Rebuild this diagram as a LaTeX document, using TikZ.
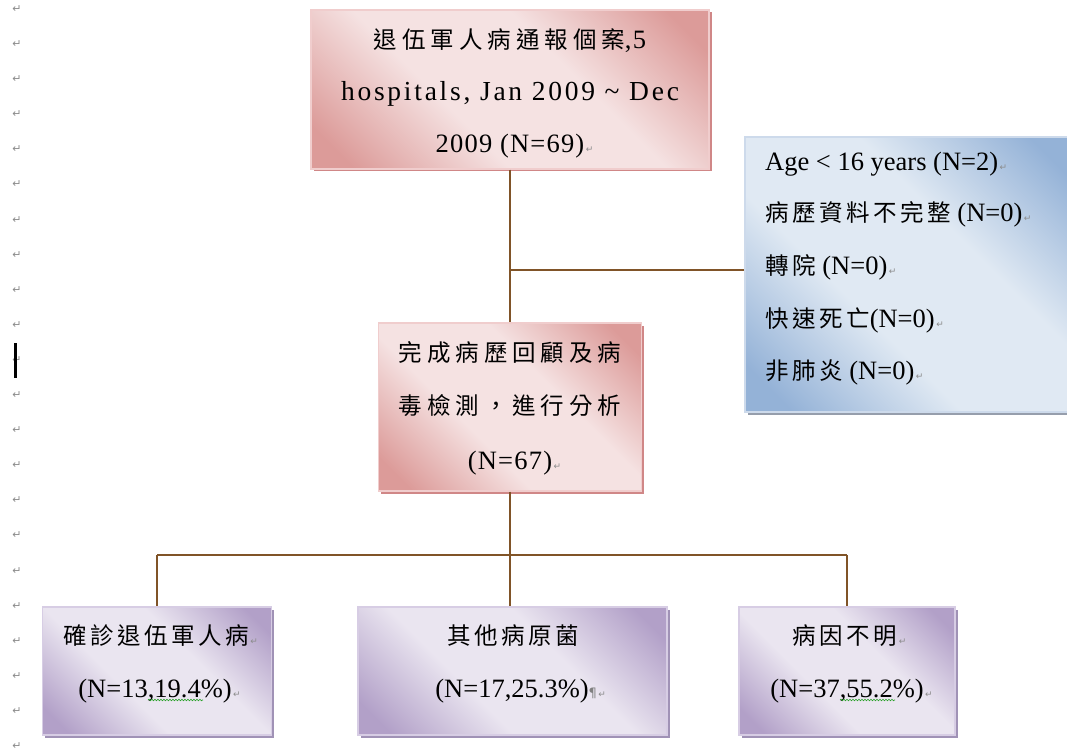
\documentclass[tikz,border=0pt]{standalone}
\usepackage{fontspec}
\setmainfont{Liberation Serif}
\newfontfamily\cjk[LetterSpace=15]{Noto Sans CJK TC}
\newfontfamily\cjkw[LetterSpace=21]{Noto Sans CJK TC}
\newfontfamily\mingA[LetterSpace=10]{Liberation Serif}
\newfontfamily\mingB[LetterSpace=4.5]{Liberation Serif}
\newfontfamily\symf{DejaVu Sans}
\usetikzlibrary{shadows,decorations.pathmorphing}

% fills, edges and shadows of the three box families
\definecolor{pkD}{RGB}{220,155,153}
\definecolor{pkL}{RGB}{245,226,226}
\definecolor{pkE}{RGB}{240,205,205}
\definecolor{pkS}{RGB}{208,135,135}
\definecolor{blD}{RGB}{148,178,215}
\definecolor{blL}{RGB}{224,233,243}
\definecolor{blE}{RGB}{205,218,235}
\definecolor{blS}{RGB}{150,158,172}
\definecolor{puD}{RGB}{178,160,200}
\definecolor{puL}{RGB}{234,229,240}
\definecolor{puE}{RGB}{215,205,228}
\definecolor{puS}{RGB}{160,146,182}
\definecolor{lnk}{RGB}{128,84,40}
\definecolor{markgray}{RGB}{140,140,140}
\definecolor{wvgreen}{RGB}{40,160,40}

\pgfdeclarehorizontalshading{pinkdiag}{100bp}{color(0bp)=(pkD); color(20bp)=(pkD); color(40bp)=(pkL); color(60bp)=(pkL); color(80bp)=(pkD); color(100bp)=(pkD)}
\pgfdeclarehorizontalshading{bluediag}{100bp}{color(0bp)=(blD); color(20bp)=(blD); color(40bp)=(blL); color(60bp)=(blL); color(80bp)=(blD); color(100bp)=(blD)}
\pgfdeclarehorizontalshading{purpdiag}{100bp}{color(0bp)=(puD); color(20bp)=(puD); color(40bp)=(puL); color(60bp)=(puL); color(80bp)=(puD); color(100bp)=(puD)}

% paragraph mark set just after a line
\newcommand\ret{\rlap{\kern1.5pt\textcolor{markgray}{\symf\fontsize{9}{9}\selectfont ↵}}}
\newcommand\pilcrow{\textcolor{gray}{\symf\fontsize{13}{13}\selectfont ¶}}

\begin{document}
\begin{tikzpicture}[x=1pt,y=-1pt,
  box/.style={rectangle, inner sep=0pt, line width=1.2pt},
  pinkbox/.style={box, shading=pinkdiag, shading angle=45, draw=pkE,
    drop shadow={shadow xshift=2.5pt, shadow yshift=-2.5pt, fill=pkS, opacity=1}},
  bluebox/.style={box, shading=bluediag, shading angle=45, draw=blE,
    drop shadow={shadow xshift=2.5pt, shadow yshift=-2.5pt, fill=blS, opacity=1}},
  purpbox/.style={box, shading=purpdiag, shading angle=45, draw=puE,
    drop shadow={shadow xshift=2.5pt, shadow yshift=-2.5pt, fill=puS, opacity=1}},
  txt/.style={inner sep=0pt, anchor=base},
  ltxt/.style={inner sep=0pt, anchor=base west},
  zh/.style={font=\fontsize{23.5}{23.5}\selectfont},
  la/.style={font=\fontsize{26.5}{26.5}\selectfont},
  link/.style={draw=lnk, line width=2.2pt},
  wavy/.style={draw=wvgreen, line width=0.6pt, decorate,
    decoration={snake, amplitude=0.8pt, segment length=3pt}},
  pmark/.style={inner sep=0pt, text=markgray, font=\symf\fontsize{11}{11}\selectfont}
]
\clip (0,0) rectangle (1067,754);
\fill[white] (0,0) rectangle (1067,754);

% paragraph marks down the left margin and the text cursor
\foreach \i in {0,...,21}{
  \node[pmark] (m\i) at (17,{9+35.1*\i}) {↵};
}
\fill[black] (14,343) rectangle (16.5,378);

% boxes
\node[pinkbox, minimum width=398pt, minimum height=159pt] (top) at (510,89.5) {};
\node[pinkbox, minimum width=263pt, minimum height=168pt] (mid) at (510,407) {};
\node[bluebox, minimum width=332pt, minimum height=275pt] (excl) at (911,274.5) {};
\node[purpbox, minimum width=229pt, minimum height=128pt] (conf) at (157,671) {};
\node[purpbox, minimum width=309pt, minimum height=128pt] (other) at (512.5,671) {};
\node[purpbox, minimum width=216pt, minimum height=128pt] (unk) at (847,671) {};

% connectors
\coordinate (j1) at (510,270);
\coordinate (j2) at (510,555);
\draw[link] (top.south) -- (mid.north);
\draw[link] (j1) -- (j1 -| excl.west);
\draw[link] (mid.south) -- (j2);
\draw[link] (conf.north |- j2) -- (unk.north |- j2);
\draw[link] (conf.north |- j2) -- (conf.north);
\draw[link] (j2) -- (j2 |- other.north);
\draw[link] (unk.north |- j2) -- (unk.north);

% top box text
\node[txt, zh] (t1) at (510,49) {{\cjkw 退伍軍人病通報個案}{\mingB\fontsize{26.5}{26.5}\selectfont ,5}};
\node[txt, la] (t2) at (510,101) {\mingA\fontsize{27.5}{27.5}\selectfont hospitals, Jan 2009 \textasciitilde\ Dec};
\node[txt, la] (t3) at (510,153) {{\mingB 2009 (N=69)}\ret};

% middle box text
\node[txt, zh] (m1) at (510,361) {\cjkw 完成病歷回顧及病};
\node[txt, zh] (m2) at (510,414) {\cjkw 毒檢測，進行分析};
\node[txt, la] (m3) at (510,469) {{\mingB (N=67)}\ret};

% exclusion list
\node[ltxt, la] (e1) at (765,171) {Age < 16 years (N=2)\ret};
\node[ltxt, la] (e2) at (765,221) {{\cjk\fontsize{23.5}{23.5}\selectfont 病歷資料不完整} (N=0)\ret};
\node[ltxt, la] (e3) at (765,274) {{\cjk\fontsize{23.5}{23.5}\selectfont 轉院} (N=0)\ret};
\node[ltxt, la] (e4) at (765,327) {{\cjk\fontsize{23.5}{23.5}\selectfont 快速死亡}(N=0)\ret};
\node[ltxt, la] (e5) at (765,379) {{\cjk\fontsize{23.5}{23.5}\selectfont 非肺炎} (N=0)\ret};

% outcome boxes text
\node[txt, zh] (c1) at (156,644) {{\cjk 確診退伍軍人病}\ret};
\node[txt, la] (c2) at (155,697) {(N=13,19.4\%)\ret};
\node[txt, zh] (o1) at (513,644) {\cjk 其他病原菌};
\node[txt, la] (o2) at (512,697) {(N=17,25.3\%)\rlap{\pilcrow\ret}};
\node[txt, zh] (u1) at (845,644) {{\cjk 病因不明}\ret};
\node[txt, la] (u2) at (847,697) {(N=37,55.2\%)\ret};

% spelling underlines
\draw[wavy] (148,700) -- (203,700);
\draw[wavy] (840,700) -- (895,700);
\end{tikzpicture}
\end{document}
